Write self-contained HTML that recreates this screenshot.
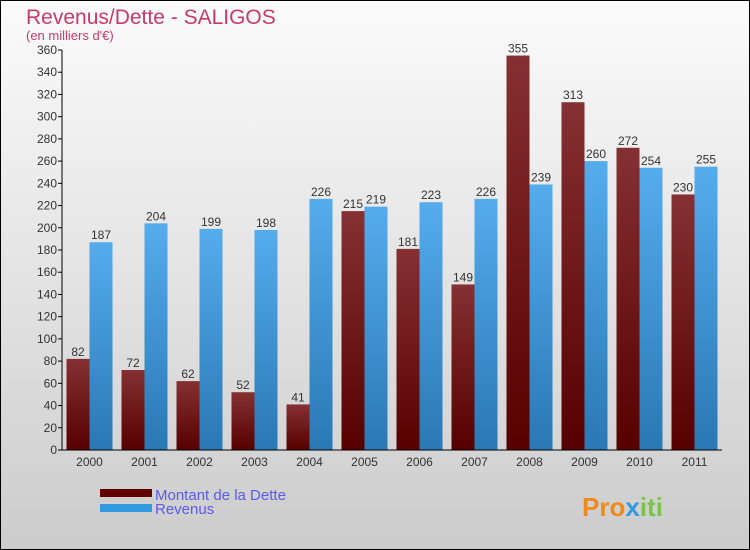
<!DOCTYPE html>
<html><head><meta charset="utf-8"><style>
body{margin:0;}
#c{width:750px;height:550px;position:relative;overflow:hidden;font-family:"Liberation Sans",sans-serif;}
</style></head><body>
<div id="c">
<svg id="s" width="750" height="550" xmlns="http://www.w3.org/2000/svg">
<defs>
<linearGradient id="bg" x1="0" y1="0" x2="0" y2="1"><stop offset="0" stop-color="#fbfbfb"/><stop offset="1" stop-color="#cccccc"/></linearGradient>
<linearGradient id="gd" x1="0" y1="0" x2="0" y2="1"><stop offset="0" stop-color="#853032"/><stop offset="1" stop-color="#560000"/></linearGradient>
<linearGradient id="gr" x1="0" y1="0" x2="0" y2="1"><stop offset="0" stop-color="#55aced"/><stop offset="1" stop-color="#2a78b4"/></linearGradient>
</defs>
<rect x="0.5" y="0.5" width="749" height="549" fill="url(#bg)" stroke="#000"/>
<text x="26" y="24" font-size="21" fill="#c83a6a">Revenus/Dette - SALIGOS</text>
<text x="26" y="40" font-size="13" fill="#c83a6a">(en milliers d'€)</text>
<g id="plot"></g>
<rect x="100" y="489" width="52" height="8" fill="#600000"/>
<rect x="100" y="504" width="52" height="8" fill="#3399e0"/>
<text x="155" y="500" font-size="15" fill="#5a5aee">Montant de la Dette</text>
<text x="155" y="514" font-size="15" fill="#5a5aee">Revenus</text>
<text x="582" y="516" font-size="26" font-weight="bold" fill="#f08a1c">Pro<tspan fill="#3399e0">x</tspan><tspan fill="#7cc34a">iti</tspan></text>
</svg>
</div>
<script>
const years=["2000","2001","2002","2003","2004","2005","2006","2007","2008","2009","2010","2011"];
const dette=[82,72,62,52,41,215,181,149,355,313,272,230];
const revenus=[187,204,199,198,226,219,223,226,239,260,254,255];
const ticks=[0,20,40,60,80,100,120,140,160,180,200,220,240,260,280,300,320,340,360];
const NS="http://www.w3.org/2000/svg";
const g=document.getElementById("plot");
const x0=62,x1=722,yB=450,yT=50,vmax=360;
const y=v=>yB-(v/vmax)*(yB-yT);
const gw=(x1-x0)/years.length;
function mk(t,a){const e=document.createElementNS(NS,t);for(const k in a)e.setAttribute(k,a[k]);g.appendChild(e);return e;}
years.forEach((yr,i)=>{
  const cx=x0+gw*i+gw/2;
  let r=mk("rect",{x:cx-23,y:y(dette[i]),width:23,height:yB-y(dette[i]),fill:"url(#gd)"});
  
  
  r=mk("rect",{x:cx,y:y(revenus[i]),width:23,height:yB-y(revenus[i]),fill:"url(#gr)"});
  
  
  let t=mk("text",{x:cx-11.5,y:y(dette[i])-3,"font-size":12,fill:"#333","text-anchor":"middle"});t.textContent=dette[i];
  
  
  t=mk("text",{x:cx+11.5,y:y(revenus[i])-3,"font-size":12,fill:"#333","text-anchor":"middle"});t.textContent=revenus[i];
  
  
  t=mk("text",{x:cx,y:466,"font-size":12,fill:"#333","text-anchor":"middle"});t.textContent=yr;
  
  
});
ticks.forEach(v=>{
  const l=mk("line",{x1:x0-4,x2:x0,y1:y(v),y2:y(v),stroke:"#000"});
  
  
  const t=mk("text",{x:x0-5,y:y(v)+4,"font-size":12,fill:"#333","text-anchor":"end"});t.textContent=v;
  
  
});
let a=mk("line",{x1:x0,x2:x0,y1:yT,y2:yB,stroke:"#000"});


a=mk("line",{x1:x0,x2:x1,y1:yB,y2:yB,stroke:"#000"});


</script>
</body></html>
